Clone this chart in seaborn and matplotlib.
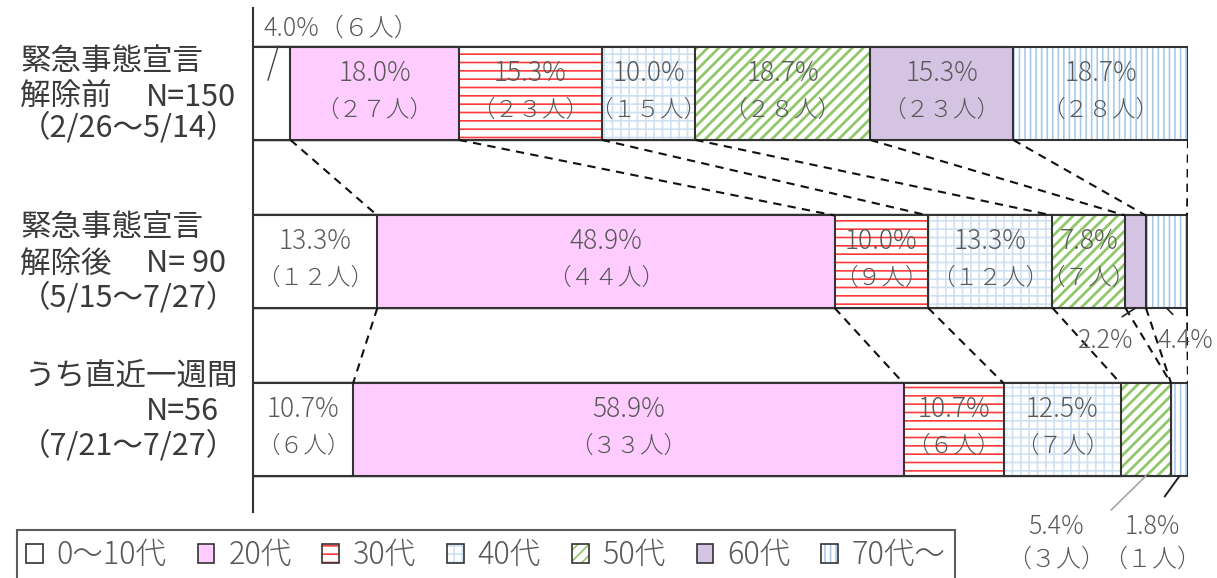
import matplotlib
matplotlib.use("Agg")
import matplotlib.pyplot as plt
import matplotlib.colors as mcolors
from matplotlib.patches import Patch
import numpy as np
import pandas as pd
import seaborn as sns

# ---------------- data ----------------
rows = ["解除前", "解除後", "直近一週間"]
ages = ["0～10代", "20代", "30代", "40代", "50代", "60代", "70代～"]
pct_before = [4.0, 18.0, 15.3, 10.0, 18.7, 15.3, 18.7]
pct_after = [13.3, 48.9, 10.0, 13.3, 7.8, 2.2, 4.4]
pct_week = [10.7, 58.9, 10.7, 12.5, 5.4, 0.0, 1.8]
cnt_before = [6, 27, 23, 15, 28, 23, 28]
cnt_after = [12, 44, 9, 12, 7, 2, 4]
cnt_week = [6, 33, 6, 7, 3, 0, 1]

# ---------------- styles ----------------
face_colors = ["#FFFFFF", "#FFCCFF", "#FFFFFF", "#FFFFFF", "#FFFFFF", "#D5C3E3", "#FFFFFF"]
hatches = [None, None, "--", "++", "///", None, "|||"]
hatch_colors = [None, None, "#FF3A3A", "#CFE0F3", "#93C76E", None, "#A9CBEA"]
edge = "#333333"
txt_gray = "#595959"

sns.set_theme(style="white")
plt.rcParams["font.family"] = ["Noto Sans CJK JP", "DejaVu Sans"]
plt.rcParams["hatch.linewidth"] = 1.2

W, H = 1217, 578
fig = plt.figure(figsize=(W / 100, H / 100), dpi=100)
ax = fig.add_axes([253 / W, 1 - 512 / H, 935 / W, 504 / H])

pct = np.array([pct_before, pct_after, pct_week])
cnt = np.array([cnt_before, cnt_after, cnt_week])
cum = np.cumsum(pct, axis=1)
BAR_W = 0.55

# stacked bars drawn as overlaid cumulative bars (last category first)
for k in range(len(ages) - 1, -1, -1):
    df = pd.DataFrame({"row": rows, "cum": cum[:, k]})
    before = len(ax.patches)
    sns.barplot(data=df, x="cum", y="row", orient="h", color=face_colors[k],
                saturation=1, width=BAR_W, edgecolor=edge, linewidth=1.5,
                errorbar=None, ax=ax)
    for p in ax.patches[before:]:
        p.set_facecolor(face_colors[k])
        if hatches[k]:
            p.set_hatch(hatches[k])
            p._hatch_color = mcolors.to_rgba(hatch_colors[k])
            if k == 4:
                p._hatch_linewidth = 2.0

ax.set_xlim(0, 100)
ax.set_ylim(2.49, -0.51)
ax.set_xlabel("")
ax.set_ylabel("")
ax.tick_params(left=False, labelleft=False, bottom=False, labelbottom=False)
for s in ["top", "right", "bottom"]:
    ax.spines[s].set_visible(False)
ax.spines["left"].set_color(edge)
ax.spines["left"].set_linewidth(1.5)

# dashed connectors between rows
for r in range(len(rows) - 1):
    for k in range(len(ages)):
        ax.plot([cum[r, k], cum[r + 1, k]], [r + BAR_W / 2, r + 1 - BAR_W / 2],
                color="#111111", lw=1.5, dashes=(4, 3), zorder=1)

def fw(n):
    return str(n).translate(str.maketrans("0123456789", "０１２３４５６７８９"))

VAL_FS = 19
CNT_FS = 17
# inside labels
for r in range(len(rows)):
    left = 0.0
    for k in range(len(ages)):
        w = pct[r, k]
        cx = left + w / 2
        if w >= 7:
            ax.text(cx, r - 0.125, f"{w:.1f}%", ha="center", va="center",
                    fontsize=VAL_FS, fontweight="light", color=txt_gray, zorder=5)
            ax.text(cx, r + 0.1, f"（{fw(cnt[r, k])}人）", ha="center", va="center",
                    fontsize=CNT_FS, fontweight="light", color=txt_gray, zorder=5)
        left += w

px = 0.72  # points per pixel at 100 dpi

def seg_center(r, k):
    return cum[r, k] - pct[r, k] / 2

# row 0, 0~10代 : label above the bar
ax.annotate(f"{pct[0,0]:.1f}%（{fw(cnt[0,0])}人）",
            xy=(cum[0, 0] - pct[0, 0] * 0.6, -0.08), xycoords="data",
            xytext=(-4 * px, 52 * px), textcoords="offset points",
            ha="left", va="center", fontsize=18, fontweight="light", color=txt_gray,
            arrowprops=dict(arrowstyle="-", color="#444444", lw=1.0,
                            relpos=(0.1, 0.0), shrinkA=1, shrinkB=0),
            annotation_clip=False)

# row 1, 60代 and 70代～
ax.annotate(f"{pct[1,5]:.1f}%", xy=(seg_center(1, 5), 1 + BAR_W / 2),
            xytext=(-30 * px, -33 * px), textcoords="offset points",
            ha="center", va="center", fontsize=18, fontweight="light", color=txt_gray,
            arrowprops=dict(arrowstyle="-", color="#222222", lw=1.2,
                            relpos=(0.5, 1.0), shrinkA=10, shrinkB=0),
            annotation_clip=False)
ax.annotate(f"{pct[1,6]:.1f}%", xy=(seg_center(1, 6), 1 + BAR_W / 2),
            xytext=(19 * px, -33 * px), textcoords="offset points",
            ha="center", va="center", fontsize=18, fontweight="light", color=txt_gray,
            arrowprops=dict(arrowstyle="-", color="#222222", lw=1.2,
                            relpos=(0.5, 1.0), shrinkA=10, shrinkB=0),
            annotation_clip=False)

# row 2, 50代 and 70代～
ax.annotate(f"{pct[2,4]:.1f}%\n（{fw(cnt[2,4])}人）", xy=(seg_center(2, 4), 2 + BAR_W / 2),
            xytext=(-90 * px, -67 * px), textcoords="offset points",
            ha="center", va="center", fontsize=18, fontweight="light", color=txt_gray,
            linespacing=1.3,
            arrowprops=dict(arrowstyle="-", color="#A6A6A6", lw=1.2,
                            relpos=(0.85, 0.72), shrinkA=2, shrinkB=0),
            annotation_clip=False)
ax.annotate(f"{pct[2,6]:.1f}%\n（{fw(cnt[2,6])}人）", xy=(seg_center(2, 6), 2 + BAR_W / 2),
            xytext=(-27 * px, -67 * px), textcoords="offset points",
            ha="center", va="center", fontsize=18, fontweight="light", color=txt_gray,
            linespacing=1.3,
            arrowprops=dict(arrowstyle="-", color="#222222", lw=1.4,
                            relpos=(0.5, 1.0), shrinkA=12, shrinkB=0),
            annotation_clip=False)

# row labels
lab_color = "#3A3A3A"
def ftext(x, y, s, ha="left"):
    fig.text(x / W, 1 - y / H, s, ha=ha, va="center", fontsize=22, color=lab_color)

ftext(20, 61, "緊急事態宣言")
ftext(20, 97, "解除前")
ftext(146, 97, "N=150")
ftext(20, 128, "（2/26～5/14）")
ftext(20, 228, "緊急事態宣言")
ftext(20, 264, "解除後")
ftext(146, 264, "N= 90")
ftext(20, 298, "（5/15～7/27）")
ftext(25, 377, "うち直近一週間")
ftext(146, 412, "N=56")
ftext(20, 446, "（7/21～7/27）")

# legend
handles = []
for k in range(len(ages)):
    h = Patch(facecolor=face_colors[k], edgecolor=edge, linewidth=1.2,
              hatch=hatches[k] if hatches[k] else None)
    if hatches[k]:
        h._hatch_color = mcolors.to_rgba(hatch_colors[k])
    handles.append(h)
leg = fig.legend(handles, ages, loc="upper left",
                 bbox_to_anchor=(17 / W, 1 - 530 / H, 938 / W, 0.0),
                 mode="expand", ncol=7, frameon=True, fancybox=False,
                 edgecolor=edge, fontsize=22,
                 handlelength=0.55, handleheight=0.55, handletextpad=0.45,
                 columnspacing=1.0, borderpad=0.3, borderaxespad=0,
                 labelcolor=txt_gray, prop={"weight": "light", "size": 22})
leg.get_frame().set_linewidth(1.5)

fig.savefig("out.png", dpi=100)
